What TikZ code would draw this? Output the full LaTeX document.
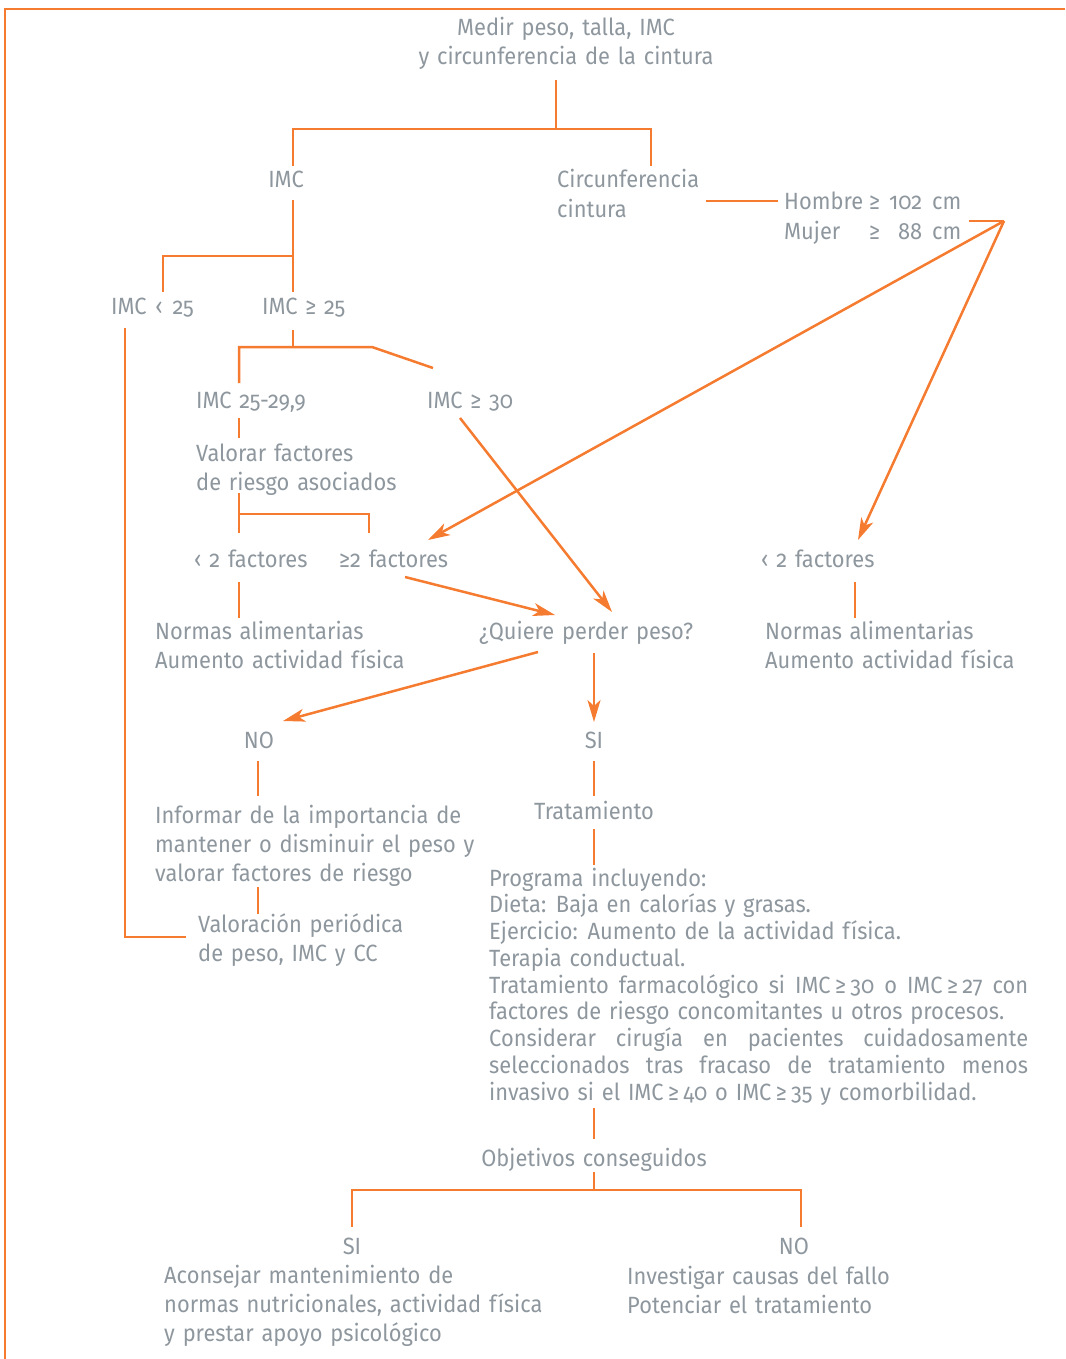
\documentclass[tikz,border=0pt]{standalone}
\usepackage{fontspec}
\setmainfont{Fira Sans}[Numbers=OldStyle, FakeStretch=0.93, WordSpace=1.35]
\usetikzlibrary{arrows.meta}
\definecolor{flow}{HTML}{F47B30}
\definecolor{ink}{HTML}{8E979E}
\newcommand{\gsp}{\hspace{4.5pt}}
\tikzset{
  conn/.style={draw=flow, line width=2.5pt},
  arr/.style={conn, -{Stealth[length=22pt,width=13pt,inset=6pt]}},
  frameline/.style={draw=flow, line width=1.6pt},
  % multi-line labels are placed by the baseline of their last line
  lbl/.style={text=ink, font=\fontsize{23.5}{29}\selectfont, inner sep=0pt, align=left, anchor=base west},
  clbl/.style={lbl, align=center, anchor=base},
  prog/.style={lbl, font=\fontsize{23.5}{26.75}\selectfont},
}
\begin{document}
\begin{tikzpicture}[x=1pt,y=-1pt]
\useasboundingbox (0,0) rectangle (1065,1359);
% open frame
\coordinate (fbl) at (5,1359);
\coordinate (ftl) at (5,9);
\coordinate (ftr) at (1065,9);
\draw[frameline] (fbl) -- (ftl) -- (ftr);

% ---------- labels ----------
\node[clbl] (medir) at (566,65) {Medir peso, talla, IMC\\y circunferencia de la cintura};
\node[clbl] (imc) at (286,188) {IMC};
\node[lbl] (circ) at (557,217) {Circunferencia\\cintura};
\node[lbl] (sexo) at (784,239) {\makebox[85pt][l]{Hombre}\makebox[12pt][l]{≥}\makebox[41pt][r]{102}\hspace{10pt}cm\\
  \makebox[85pt][l]{Mujer}\makebox[12pt][l]{≥}\makebox[41pt][r]{88}\hspace{10pt}cm};
\node[lbl] (imcmenor) at (111,314) {IMC \hspace{1pt}‹\hspace{2pt} 25};
\node[lbl] (imcmayor) at (262,314) {IMC ≥ 25};
\node[lbl] (imcsobre) at (196,408) {IMC 25-29,9};
\node[lbl] (imcobes) at (427,408) {IMC ≥ 30};
\node[lbl] (valorar) at (196,490) {Valorar factores\\de riesgo asociados};
\node[lbl] (menosf) at (194,567) {‹ 2 factores};
\node[lbl] (masf) at (339,567) {≥2 factores};
\node[lbl] (menosfd) at (761,567) {‹ 2 factores};
\node[lbl] (normasi) at (155,668) {Normas alimentarias\\Aumento actividad física};
\node[lbl] (quiere) at (479,639) {¿Quiere perder peso?};
\node[lbl] (normasd) at (765,668) {Normas alimentarias\\Aumento actividad física};
\node[clbl] (no) at (259,748) {NO};
\node[clbl] (si) at (594,748) {SI};
\node[lbl] (informar) at (155,881) {Informar de la importancia de\\mantener o disminuir el peso y\\valorar factores de riesgo};
\node[lbl] (periodica) at (198,961) {Valoración periódica\\de peso, IMC y CC};
\node[clbl] (trat) at (594,819) {Tratamiento};
\node[prog] (programa) at (489,1100) {Programa incluyendo:\\
  Dieta: Baja en calorías y grasas.\\
  Ejercicio: Aumento de la actividad física.\\
  Terapia conductual.\\
  \makebox[539pt][s]{Tratamiento farmacológico si IMC\gsp≥\gsp30 o IMC\gsp≥\gsp27 con}\\
  factores de riesgo concomitantes u otros procesos.\\
  \makebox[539pt][s]{Considerar cirugía en pacientes cuidadosamente}\\
  \makebox[539pt][s]{seleccionados tras fracaso de tratamiento menos}\\
  invasivo si el IMC\gsp≥\gsp40 o IMC\gsp≥\gsp35 y comorbilidad.};
\node[clbl] (objetivos) at (594,1166) {Objetivos conseguidos};
\node[clbl] (sifin) at (352,1254) {SI};
\node[clbl] (nofin) at (794,1254) {NO};
\node[lbl] (aconsejar) at (164,1341) {Aconsejar mantenimiento de\\normas nutricionales, actividad física\\y prestar apoyo psicológico};
\node[lbl] (investigar) at (627,1313) {Investigar causas del fallo\\Potenciar el tratamiento};

% ---------- connector points ----------
\coordinate (medirB) at (556,80);
\coordinate (j1) at (556,129);
\coordinate (j1l) at (293,129);
\coordinate (j1r) at (651,129);
\coordinate (imcT) at (293,166);
\coordinate (circT) at (651,166);
\coordinate (circR) at (706,201);
\coordinate (sexoL) at (778,201);
\coordinate (sexoR) at (969,221);
\coordinate (fork) at (1004,221);
\coordinate (masfT) at (428,540);
\coordinate (menosfdT) at (858,540);
\coordinate (imcB) at (293,200);
\coordinate (j2) at (293,256);
\coordinate (j2l) at (163,256);
\coordinate (menorT) at (163,292);
\coordinate (mayorT) at (293,292);
\coordinate (menorB) at (125,328);
\coordinate (retC) at (125,937);
\coordinate (periodicaL) at (186,937);
\coordinate (mayorB) at (293,330);
\coordinate (j3) at (293,347);
\coordinate (j3l) at (239,347);
\coordinate (j3r) at (372,347);
\coordinate (sobreT) at (239,383);
\coordinate (obesT) at (433,368);
\coordinate (sobreB) at (239,418);
\coordinate (valorarT) at (239,438);
\coordinate (valorarB) at (239,493);
\coordinate (j4) at (239,514);
\coordinate (j4r) at (369,514);
\coordinate (menosfT) at (239,533);
\coordinate (masfTop) at (369,533);
\coordinate (obesB) at (460,418);
\coordinate (quiereR) at (612,612);
\coordinate (masfB) at (405,577);
\coordinate (quiereL) at (555,615);
\coordinate (menosfB) at (239,582);
\coordinate (normasiT) at (239,618);
\coordinate (menosfdB) at (855,582);
\coordinate (normasdT) at (855,618);
\coordinate (quiereBL) at (538,652);
\coordinate (noT) at (283,721);
\coordinate (quiereB) at (594,653);
\coordinate (siT) at (594,722);
\coordinate (noB) at (258,761);
\coordinate (informarT) at (258,796);
\coordinate (informarB) at (258,887);
\coordinate (periodicaT) at (258,914);
\coordinate (siB) at (594,761);
\coordinate (tratT) at (594,796);
\coordinate (tratB) at (594,829);
\coordinate (programaT) at (594,865);
\coordinate (programaB) at (594,1108);
\coordinate (objetivosT) at (594,1139);
\coordinate (objetivosB) at (594,1172);
\coordinate (j5) at (594,1190);
\coordinate (j5l) at (352,1190);
\coordinate (j5r) at (801,1190);
\coordinate (sifinT) at (352,1227);
\coordinate (nofinT) at (801,1227);

% ---------- connectors ----------
\draw[conn] (medirB) -- (j1);
\draw[conn] (imcT) -- (j1l) -- (j1r) -- (circT);
\draw[conn] (circR) -- (sexoL);
\draw[conn] (sexoR) -- (fork);
\draw[arr] (fork) -- (masfT);
\draw[arr] (fork) -- (menosfdT);
\draw[conn] (imcB) -- (mayorT);
\draw[conn] (menorT) -- (j2l) -- (j2);
\draw[conn] (menorB) -- (retC) -- (periodicaL);
\draw[conn] (mayorB) -- (j3);
\draw[conn] (sobreT) -- (j3l) -- (j3r) -- (obesT);
\draw[conn] (sobreB) -- (valorarT);
\draw[conn] (valorarB) -- (menosfT);
\draw[conn] (j4) -- (j4r) -- (masfTop);
\draw[arr] (obesB) -- (quiereR);
\draw[arr] (masfB) -- (quiereL);
\draw[conn] (menosfB) -- (normasiT);
\draw[conn] (menosfdB) -- (normasdT);
\draw[arr] (quiereBL) -- (noT);
\draw[arr] (quiereB) -- (siT);
\draw[conn] (noB) -- (informarT);
\draw[conn] (informarB) -- (periodicaT);
\draw[conn] (siB) -- (tratT);
\draw[conn] (tratB) -- (programaT);
\draw[conn] (programaB) -- (objetivosT);
\draw[conn] (objetivosB) -- (j5);
\draw[conn] (sifinT) -- (j5l) -- (j5r) -- (nofinT);
\end{tikzpicture}
\end{document}
